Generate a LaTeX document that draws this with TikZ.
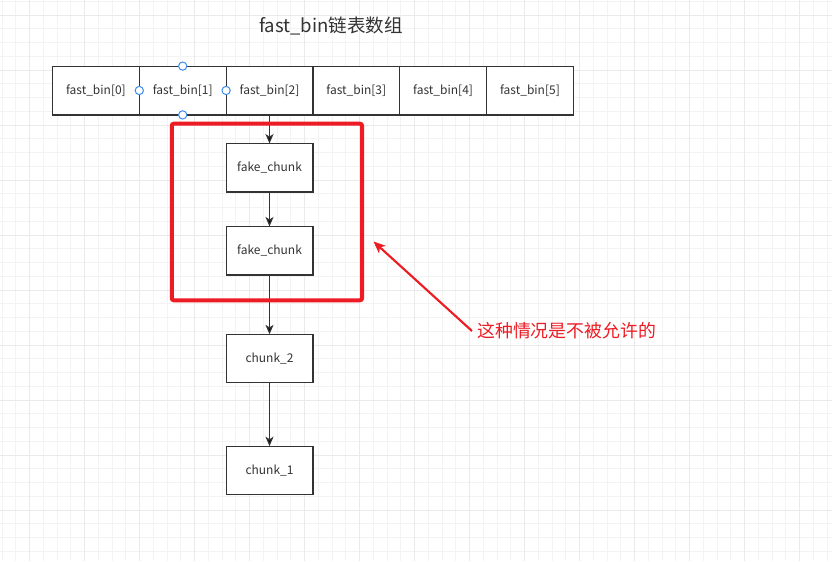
\documentclass[tikz,border=0pt]{standalone}
\usepackage{fontspec}
\setmainfont{Noto Sans CJK SC}
\usetikzlibrary{arrows.meta,positioning}
\definecolor{inkgray}{HTML}{333333}
\definecolor{warnred}{HTML}{ED1C24}
\definecolor{gridminor}{HTML}{F3F3F3}
\definecolor{gridmajor}{HTML}{EAEAEA}
\definecolor{handleblue}{HTML}{3C8CF0}

\begin{document}
\begin{tikzpicture}[x=0.75pt,y=-0.75pt,>={Stealth[length=7pt,width=6pt,inset=1.8pt]},
                    line width=0.9pt,
                    bin node/.style={rectangle,draw=inkgray,fill=white,text=inkgray,outer sep=0pt,inner sep=0pt,
                                     minimum width=65.1pt,minimum height=36.6pt,font=\fontsize{9}{11}\selectfont},
                    chunk node/.style={bin node,minimum height=36.4pt},
                    handle/.style={circle,draw=handleblue,fill=white,line width=0.75pt,minimum size=6.2pt,inner sep=0pt}]
  \useasboundingbox (0,0) rectangle (832,561);
  \fill[white] (0,0) rectangle (832,561);

  % background grid
  \foreach \i in {0,...,60}
    \draw[gridminor,line width=0.75pt] ({2+13.75*\i},0) -- ({2+13.75*\i},561);
  \foreach \i in {0,...,40}
    \draw[gridminor,line width=0.75pt] (0,{1.25+13.75*\i}) -- (832,{1.25+13.75*\i});
  \foreach \i in {0,...,14}
    \draw[gridmajor,line width=0.75pt] ({29.5+55*\i},0) -- ({29.5+55*\i},561);
  \foreach \i in {0,...,9}
    \draw[gridmajor,line width=0.75pt] (0,{15+55*\i}) -- (832,{15+55*\i});

  \node[text=inkgray,font=\fontsize{13.9}{16}\selectfont] (title) at (331,26) {fast\_bin链表数组};

  % the bins
  \node[bin node] (b0) at (95.9,90.5) {fast\_bin[0]};
  \node[bin node] (b1) [right=0pt of b0] {fast\_bin[1]};
  \node[bin node] (b2) [right=0pt of b1] {fast\_bin[2]};
  \node[bin node] (b3) [right=0pt of b2] {fast\_bin[3]};
  \node[bin node] (b4) [right=0pt of b3] {fast\_bin[4]};
  \node[bin node] (b5) [right=0pt of b4] {fast\_bin[5]};
  \foreach \side in {north,south,east,west}
    \node[handle] (h-\side) at (b1.\side) {};

  % the chunk list
  \node[chunk node] (f1) [below=21.4pt of b2] {fake\_chunk};
  \node[chunk node] (f2) [below=25.8pt of f1] {fake\_chunk};
  \node[chunk node] (c2) [below=44.5pt of f2] {chunk\_2};
  \node[chunk node] (c1) [below=47.5pt of c2] {chunk\_1};

  \path[->,draw=inkgray]
    (b2) edge (f1)
    (f1) edge (f2)
    (f2) edge (c2)
    (c2) edge (c1);

  % red mark
  \node[draw=warnred,line width=3pt,rounded corners=1.5pt,minimum width=142.7pt,minimum height=132.4pt] (frame) at (266.9,212) {};
  \coordinate (tip) at (373.5,241.5);
  \node[text=warnred,font=\fontsize{13.4}{16}\selectfont,anchor=west,inner sep=3.5pt] (warn) at (472,331) {这种情况是不被允许的};
  \draw[->,warnred,line width=1.6pt,>={Stealth[length=9pt,width=7.5pt,inset=2.5pt]}] (warn.west) -- (tip);
\end{tikzpicture}
\end{document}
